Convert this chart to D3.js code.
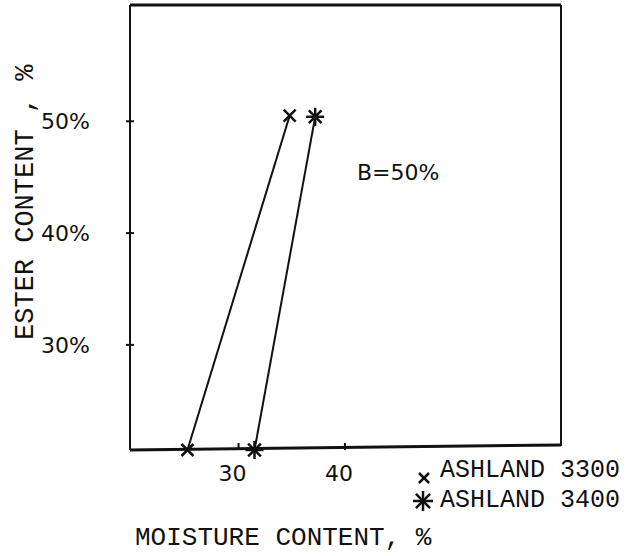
<!DOCTYPE html>
<html>
<head>
<meta charset="utf-8">
<script src="https://cdn.jsdelivr.net/npm/d3@7"></script>
<style>
html,body{margin:0;padding:0;background:#fff;}
svg{display:block;}
.mono{font-family:"Liberation Mono","DejaVu Sans Mono",monospace;fill:#111;}
.hand{font-family:"DejaVu Sans",sans-serif;font-weight:400;fill:#111;}
</style>
</head>
<body>
<svg id="chart" width="632" height="556"></svg>
<script>
// ---- data ----
const seriesNames = ["ASHLAND 3300", "ASHLAND 3400"];
const ashland3300 = [{x: 25.2, y: 20.6}, {x: 34.8, y: 50.5}];
const ashland3400 = [{x: 31.5, y: 20.6}, {x: 37.2, y: 50.4}];
const xTicks = [30, 40];
const xTickLabels = ["30", "40"];
const yTicks = [30, 40, 50];
const yTickLabels = ["30%", "40%", "50%"];
const annotation = "B=50%";
const xTitle = "MOISTURE CONTENT, %";
const yTitle = "ESTER CONTENT , %";

// ---- layout ----
const svg = d3.select("#chart");
const L = 130, R = 561, T = 5, B = 450;
const x = d3.scaleLinear().domain([19.8, 60.3]).range([L, R]);
const y = d3.scaleLinear().domain([20.6, 60.4]).range([B, T]);

// frame
svg.append("line").attr("x1", L).attr("x2", R).attr("y1", T).attr("y2", T)
  .attr("stroke", "#111").attr("stroke-width", 3);
svg.append("line").attr("x1", L).attr("x2", L).attr("y1", T).attr("y2", B)
  .attr("stroke", "#111").attr("stroke-width", 2);
svg.append("line").attr("x1", R).attr("x2", R).attr("y1", T).attr("y2", B - 4)
  .attr("stroke", "#111").attr("stroke-width", 2);
svg.append("line").attr("x1", L).attr("x2", R).attr("y1", B).attr("y2", B - 5)
  .attr("stroke", "#111").attr("stroke-width", 3);

// y ticks
const yAxisG = svg.append("g");
yTicks.forEach((t, i) => {
  yAxisG.append("line").attr("x1", L - 4).attr("x2", L + 4)
    .attr("y1", y(t)).attr("y2", y(t)).attr("stroke", "#111").attr("stroke-width", 2);
  yAxisG.append("text").attr("class", "hand").attr("x", 41).attr("y", y(t))
    .attr("dy", "0.36em").attr("font-size", 22).text(yTickLabels[i]);
});
// x ticks
const xAxisG = svg.append("g");
xTicks.forEach((t, i) => {
  xAxisG.append("line").attr("x1", x(t)).attr("x2", x(t))
    .attr("y1", B - 7).attr("y2", B).attr("stroke", "#111").attr("stroke-width", 2);
  xAxisG.append("text").attr("class", "hand").attr("x", x(t) - 6).attr("y", 481)
    .attr("text-anchor", "middle").attr("font-size", 22).text(xTickLabels[i]);
});

// lines
const line = d3.line().x(d => x(d.x)).y(d => y(d.y));
[ashland3300, ashland3400].forEach(s => {
  svg.append("path").attr("d", line(s)).attr("fill", "none")
    .attr("stroke", "#111").attr("stroke-width", 2);
});

// markers
function drawX(g, cx, cy, r) {
  g.append("line").attr("x1", cx - r).attr("y1", cy - r).attr("x2", cx + r).attr("y2", cy + r)
    .attr("stroke", "#111").attr("stroke-width", 2.5);
  g.append("line").attr("x1", cx - r).attr("y1", cy + r).attr("x2", cx + r).attr("y2", cy - r)
    .attr("stroke", "#111").attr("stroke-width", 2.5);
}
function drawStar(g, cx, cy, r) {
  for (let k = 0; k < 4; k++) {
    const a = Math.PI / 4 * k + Math.PI / 2;
    g.append("line")
      .attr("x1", cx - r * Math.cos(a)).attr("y1", cy - r * Math.sin(a))
      .attr("x2", cx + r * Math.cos(a)).attr("y2", cy + r * Math.sin(a))
      .attr("stroke", "#111").attr("stroke-width", 2.5);
  }
}
const mg = svg.append("g");
ashland3300.forEach(d => drawX(mg, x(d.x), y(d.y), 6));
ashland3400.forEach(d => drawStar(mg, x(d.x), y(d.y), 9));

// annotation
svg.append("text").attr("class", "hand").attr("x", 357).attr("y", 180)
  .attr("font-size", 22).text(annotation);

// legend
const lg = svg.append("g");
drawX(lg, 424, 478, 5);
lg.append("text").attr("class", "mono").attr("x", 440).attr("y", 477)
  .attr("font-size", 25).text(seriesNames[0]);
drawStar(lg, 423, 501, 10);
lg.append("text").attr("class", "mono").attr("x", 440).attr("y", 507)
  .attr("font-size", 25).text(seriesNames[1]);

// axis titles
svg.append("text").attr("class", "mono").attr("x", 135).attr("y", 545)
  .attr("font-size", 26).text(xTitle);
svg.append("text").attr("class", "mono")
  .attr("transform", "translate(33,340) rotate(-90)")
  .attr("font-size", 27).text(yTitle);
</script>
</body>
</html>
